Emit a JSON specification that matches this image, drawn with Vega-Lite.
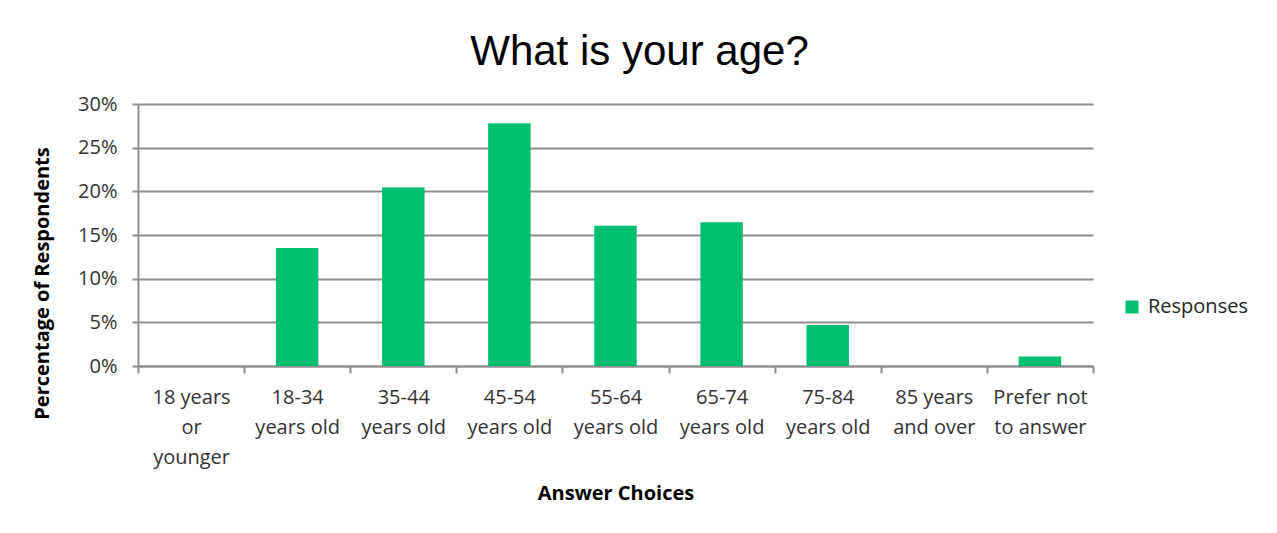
{
  "$schema": "https://vega.github.io/schema/vega-lite/v6.json",
  "width": 955,
  "height": 262,
  "autosize": "none",
  "padding": {"left": 138, "top": 104, "right": 184, "bottom": 167},
  "background": "white",
  "title": {
    "text": "What is your age?",
    "font": "Liberation Sans",
    "fontSize": 42,
    "fontWeight": "normal",
    "color": "#000000",
    "anchor": "middle",
    "frame": "group",
    "dx": 24,
    "offset": 20
  },
  "data": {
    "values": [
      {"choice": "18 years or younger", "pct": 0},
      {"choice": "18-34 years old", "pct": 0.135},
      {"choice": "35-44 years old", "pct": 0.2045},
      {"choice": "45-54 years old", "pct": 0.278},
      {"choice": "55-64 years old", "pct": 0.1605},
      {"choice": "65-74 years old", "pct": 0.1645},
      {"choice": "75-84 years old", "pct": 0.047},
      {"choice": "85 years and over", "pct": 0},
      {"choice": "Prefer not to answer", "pct": 0.011}
    ]
  },
  "mark": {"type": "bar", "width": {"band": 0.4}},
  "encoding": {
    "x": {
      "field": "choice",
      "type": "nominal",
      "sort": null,
      "scale": {"paddingInner": 0, "paddingOuter": 0},
      "axis": {
        "title": "Answer Choices",
        "labelAngle": 0,
        "labelFont": "Open Sans",
        "labelFontSize": 20,
        "labelColor": "#333333",
        "labelLineHeight": 30,
        "labelBaseline": "top",
        "labelPadding": 14,
        "labelLimit": 200,
        "labelExpr": "({'18 years or younger': ['18 years', 'or', 'younger'], '18-34 years old': ['18-34', 'years old'], '35-44 years old': ['35-44', 'years old'], '45-54 years old': ['45-54', 'years old'], '55-64 years old': ['55-64', 'years old'], '65-74 years old': ['65-74', 'years old'], '75-84 years old': ['75-84', 'years old'], '85 years and over': ['85 years', 'and over'], 'Prefer not to answer': ['Prefer not', 'to answer']})[datum.value]",
        "tickBand": "extent",
        "tickSize": 7,
        "tickColor": "#8f8f8f",
        "tickWidth": 2,
        "domainColor": "#8f8f8f",
        "domainWidth": 2,
        "grid": false,
        "titleFont": "Open Sans",
        "titleFontWeight": "bold",
        "titleFontSize": 20,
        "titleColor": "#000000",
        "titleY": 127,
        "titleBaseline": "middle"
      }
    },
    "y": {
      "field": "pct",
      "type": "quantitative",
      "scale": {"domain": [0, 0.3], "nice": false},
      "axis": {
        "title": "Percentage of Respondents",
        "format": ".0%",
        "values": [0, 0.05, 0.1, 0.15, 0.2, 0.25, 0.3],
        "grid": true,
        "gridColor": "#8f8f8f",
        "gridWidth": 2,
        "domainColor": "#8f8f8f",
        "domainWidth": 2,
        "tickColor": "#8f8f8f",
        "tickWidth": 2,
        "tickSize": 6,
        "labelPadding": 15,
        "labelFont": "Open Sans",
        "labelFontSize": 20,
        "labelColor": "#333333",
        "titleFont": "Open Sans",
        "titleFontWeight": "bold",
        "titleFontSize": 20,
        "titleColor": "#000000",
        "titleX": -96,
        "titleY": 179,
        "titleAngle": -90,
        "titleAlign": "center",
        "titleBaseline": "middle"
      }
    },
    "color": {
      "datum": "Responses",
      "type": "nominal",
      "scale": {"range": ["#00BF6F"]},
      "legend": {
        "title": null,
        "orient": "none",
        "legendX": 984,
        "legendY": 193,
        "padding": 0,
        "symbolType": "square",
        "symbolSize": 169,
        "symbolStrokeWidth": 0,
        "labelFont": "Open Sans",
        "labelFontSize": 20,
        "labelColor": "#262626",
        "labelOffset": 6
      }
    }
  },
  "config": {"view": {"stroke": null}}
}
